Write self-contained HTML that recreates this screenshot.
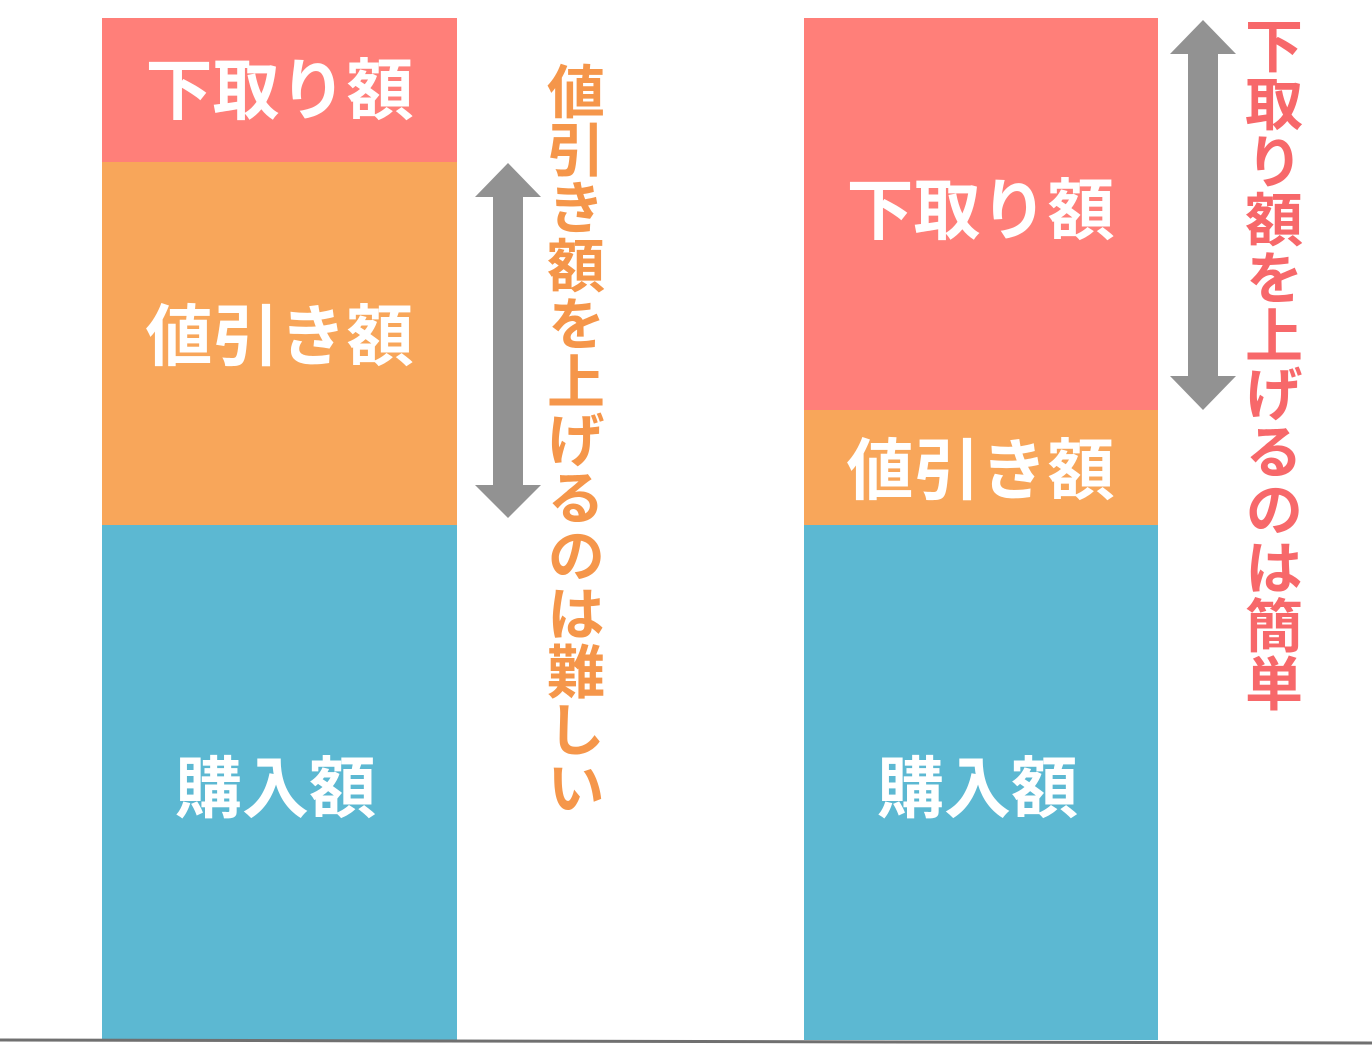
<!DOCTYPE html>
<html><head><meta charset="utf-8"><style>
body{margin:0;width:1372px;height:1046px;background:#fff;position:relative;overflow:hidden;font-family:"Liberation Sans","Noto Sans CJK JP",sans-serif;font-weight:700}
.bg{position:absolute}
.lb{position:absolute;width:355px;text-align:center;color:#fff;font-size:67px;line-height:67px;height:67px;font-weight:700}
.vt{position:absolute;writing-mode:vertical-rl;text-orientation:upright;font-size:58px;line-height:58px;font-weight:700;letter-spacing:0}
</style></head><body>
<div class="bg" style="left:102px;top:18px;width:355px;height:144px;background:#FF7F79;"></div>
<div class="bg" style="left:102px;top:162px;width:355px;height:363px;background:#F8A65A;"></div>
<div class="bg" style="left:102px;top:525px;width:355px;height:515px;background:#5CB8D2;"></div>
<div class="bg" style="left:804px;top:18px;width:354px;height:392px;background:#FF7F79;"></div>
<div class="bg" style="left:804px;top:410px;width:354px;height:115px;background:#F8A65A;"></div>
<div class="bg" style="left:804px;top:525px;width:354px;height:515px;background:#5CB8D2;"></div>
<div class="lb" style="left:102px;top:58px">下取り額</div>
<div class="lb" style="left:102px;top:304px">値引き額</div>
<div class="lb" style="left:98px;top:756px">購入額</div>
<div class="lb" style="left:803px;top:178px">下取り額</div>
<div class="lb" style="left:803px;top:438px">値引き額</div>
<div class="lb" style="left:800px;top:756px">購入額</div>
<svg style="position:absolute;left:0;top:0" width="1372" height="1046">
<polygon fill="#929292" points="508,163 541,197 523,197 523,485 541,485 508,518 475,485 493,485 493,197 475,197"/>
<polygon fill="#929292" points="1203,20 1236,54 1218,54 1218,376 1236,376 1203,410 1170,376 1188,376 1188,54 1170,54"/>
<line x1="0" y1="1040" x2="1372" y2="1043" stroke="#707070" stroke-width="3"/>
</svg>
<div class="vt" style="left:541px;top:62px;color:#F5964A">値引き額を上げるのは難しい</div>
<div class="vt" style="left:1239px;top:16px;color:#F7686A">下取り額を上げるのは簡単</div>
</body></html>
